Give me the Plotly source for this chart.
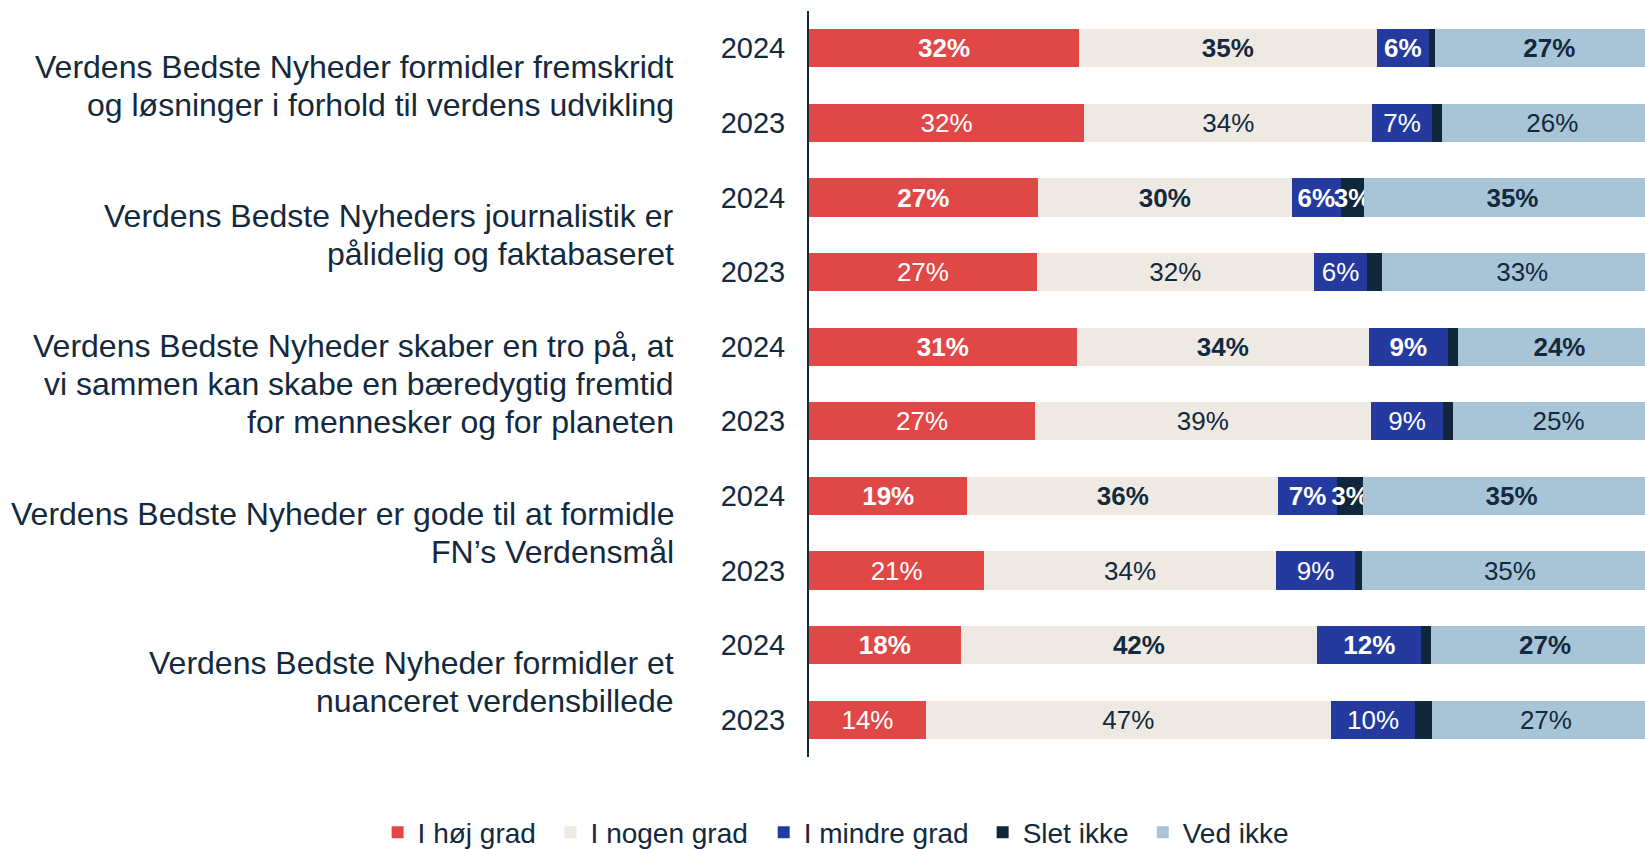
import plotly.graph_objects as go

# rows top to bottom
years = ["2024", "2023", "2024", "2023", "2024", "2023", "2024", "2023", "2024", "2023"]
statements = [
    ["Verdens Bedste Nyheder formidler fremskridt", "og løsninger i forhold til verdens udvikling"],
    ["Verdens Bedste Nyheders journalistik er", "pålidelig og faktabaseret"],
    ["Verdens Bedste Nyheder skaber en tro på, at", "vi sammen kan skabe en bæredygtig fremtid",
     "for mennesker og for planeten"],
    ["Verdens Bedste Nyheder er gode til at formidle", "FN’s Verdensmål"],
    ["Verdens Bedste Nyheder formidler et", "nuanceret verdensbillede"],
]

# segment sizes (%)
hoj = [31.9, 32.5, 27.0, 26.9, 31.6, 26.7, 18.7, 20.7, 17.9, 13.8]
nogen = [35.1, 34.0, 30.0, 32.7, 34.5, 39.6, 36.7, 34.4, 42.1, 47.8]
mindre = [6.2, 7.05, 5.8, 6.3, 9.3, 8.6, 6.9, 9.4, 12.3, 10.0]
slet = [0.7, 1.2, 2.75, 1.8, 1.2, 1.1, 3.15, 0.75, 1.1, 1.9]
ved = [27, 26, 35, 33, 24, 25, 35, 35, 27, 27]

# printed labels
hoj_lbl = [32, 32, 27, 27, 31, 27, 19, 21, 18, 14]
nogen_lbl = [35, 34, 30, 32, 34, 39, 36, 34, 42, 47]
mindre_lbl = [6, 7, 6, 6, 9, 9, 7, 9, 12, 10]
slet_lbl = [None, None, 3, None, None, None, 3, None, None, None]
ved_lbl = [27, 26, 35, 33, 24, 25, 35, 35, 27, 27]

DARK = "#13293d"
FONT = "Liberation Sans, Arial, sans-serif"

series = [
    ("I høj grad", hoj, hoj_lbl, "#e04848", "white"),
    ("I nogen grad", nogen, nogen_lbl, "#eeeae3", DARK),
    ("I mindre grad", mindre, mindre_lbl, "#243a9f", "white"),
    ("Slet ikke", slet, slet_lbl, "#10263a", "white"),
    ("Ved ikke", ved, ved_lbl, "#a8c5d8", DARK),
]
# legend entry positions (fraction of plot width, left of plot is negative)
legend_x = [-0.516, -0.3091, -0.0542, 0.2077, 0.3992]

rows = list(range(len(years)))


def fmt(v, yr):
    if v is None:
        return ""
    s = f"{v}%"
    return f"<b>{s}</b>" if yr == "2024" else s


fig = go.Figure()
legend_layout = {}
for k, (name, vals, lbls, col, tcol) in enumerate(series):
    lg = "legend" if k == 0 else f"legend{k + 1}"
    fig.add_trace(go.Bar(
        y=rows, x=vals, name=name, orientation="h", legend=lg,
        marker=dict(color=col, line=dict(width=0)),
        text=[fmt(v, y) for v, y in zip(lbls, years)],
        textposition="inside", insidetextanchor="middle", textangle=0,
        constraintext="none",
        insidetextfont=dict(color=tcol, size=26, family=FONT),
        hoverinfo="skip",
    ))
    legend_layout[lg] = dict(
        xref="paper", yref="container",
        x=legend_x[k], xanchor="left", y=0.0195, yanchor="middle",
        orientation="h", bgcolor="rgba(0,0,0,0)",
        font=dict(size=28, color=DARK, family=FONT),
    )

# statement labels, one annotation per line, centred on their pair of rows
line_step = 0.507
for i, lines in enumerate(statements):
    n = len(lines)
    for j, line in enumerate(lines):
        fig.add_annotation(
            x=-0.159, xref="paper", y=2 * i + 0.5 + (j - (n - 1) / 2) * line_step, yref="y",
            text=line, showarrow=False, xanchor="right", yanchor="middle", align="right",
            font=dict(size=32, color=DARK, family=FONT),
        )

fig.update_layout(
    width=1645, height=849,
    barmode="stack", bargap=0.49,
    plot_bgcolor="white", paper_bgcolor="white",
    margin=dict(l=809, r=0, t=11, b=92),
    font=dict(family=FONT, color=DARK),
    showlegend=True,
    xaxis=dict(range=[0, 98.7], visible=False, fixedrange=True),
    yaxis=dict(
        tickvals=rows, ticktext=years, autorange="reversed",
        showline=True, linecolor=DARK, linewidth=2, showgrid=False, zeroline=False,
        ticks="", ticklabelstandoff=16,
        tickfont=dict(size=29, color=DARK, family=FONT),
    ),
    **legend_layout,
)

fig.write_html(
    "out.html",
    config={"displayModeBar": False},
    post_script="document.body.style.margin='0';document.body.style.overflow='hidden';",
)
